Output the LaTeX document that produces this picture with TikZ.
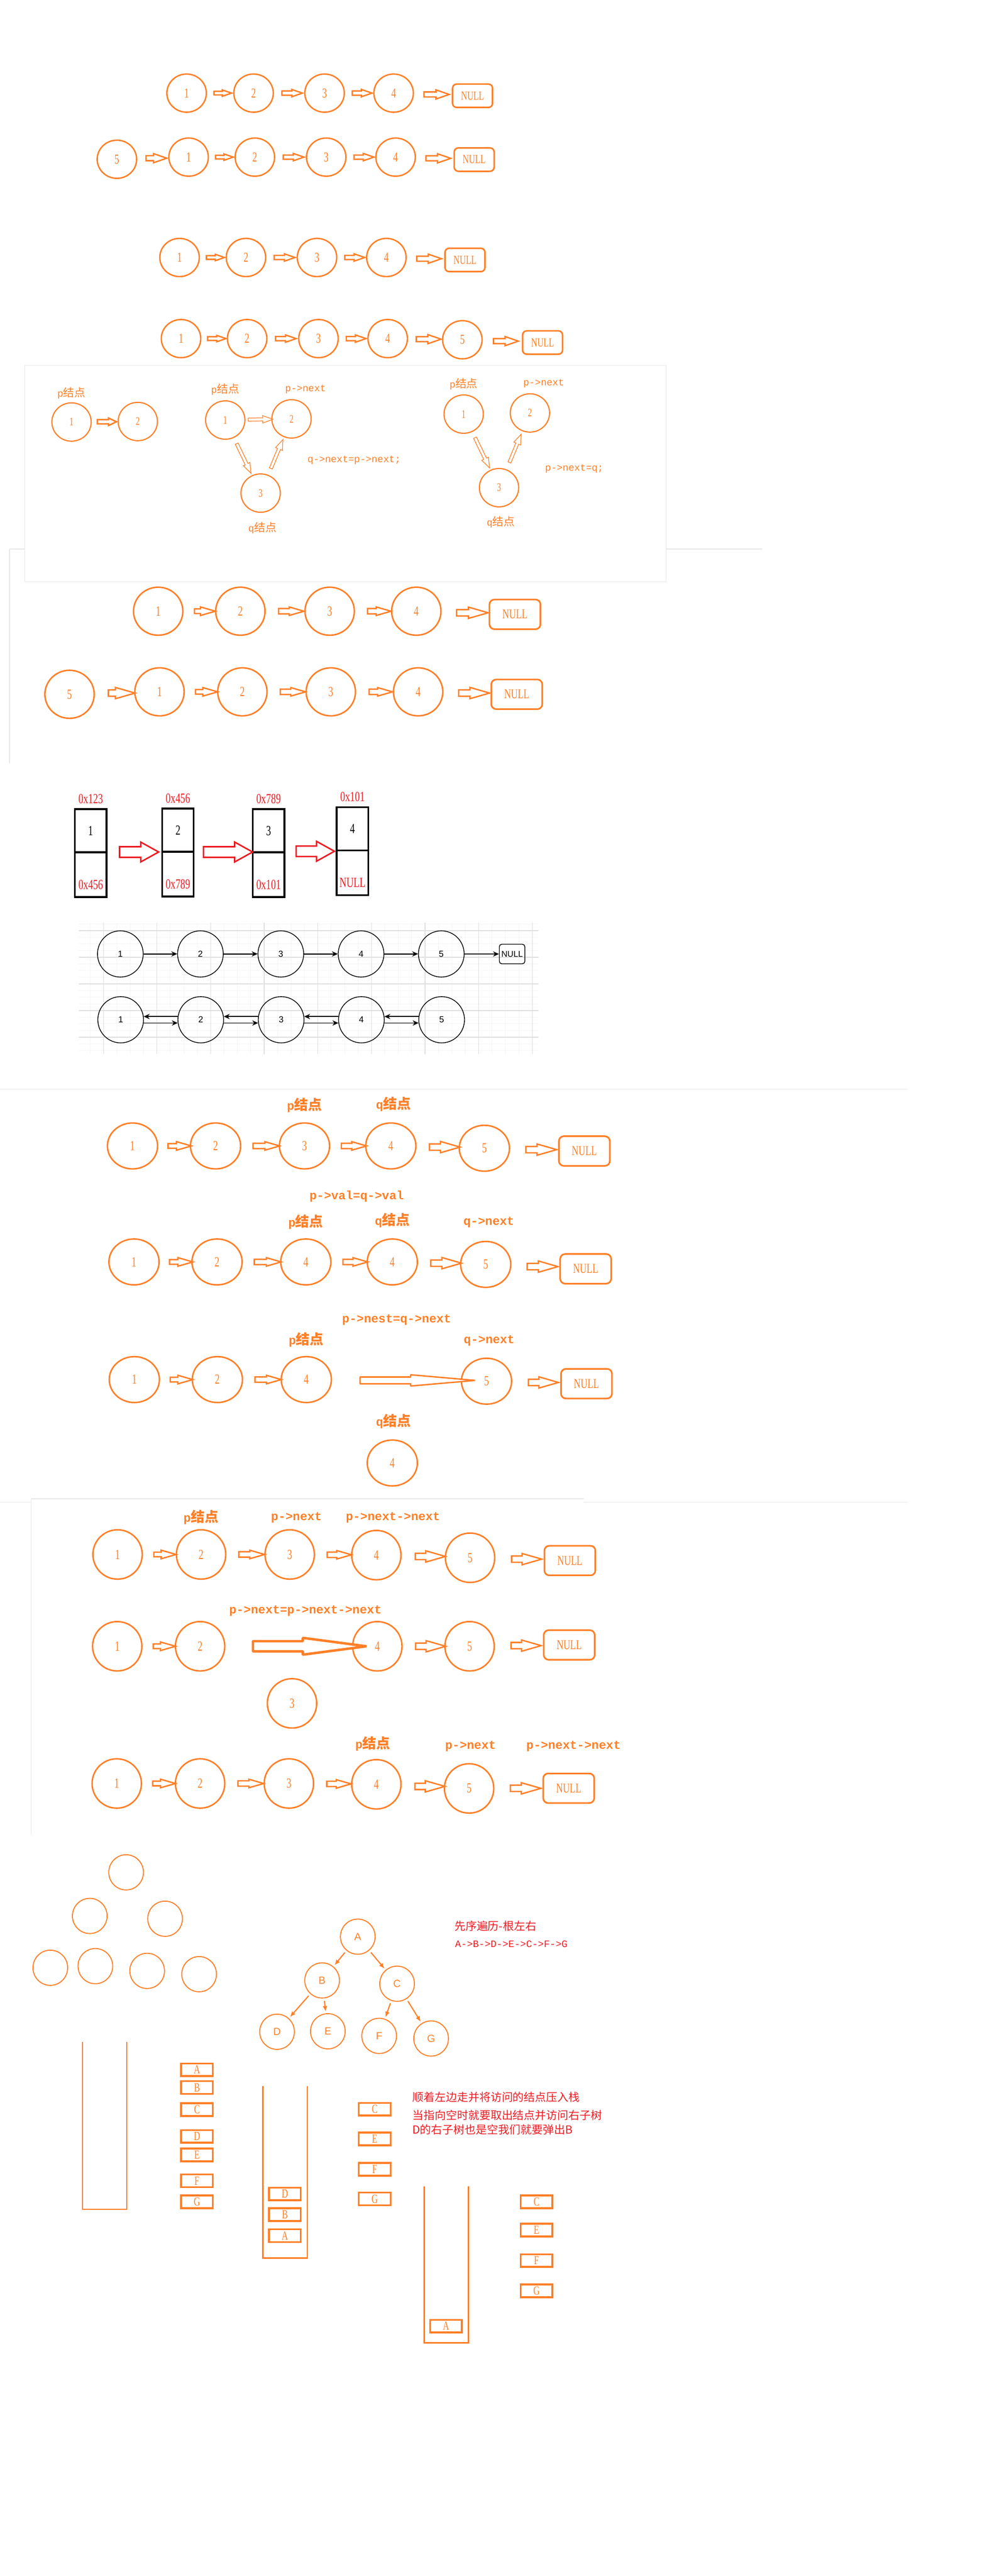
\documentclass[tikz,border=0pt]{standalone}
\usepackage{fontspec}
\setmainfont{Liberation Serif}
\setsansfont{Liberation Sans}
\setmonofont{Liberation Mono}
\newfontfamily\cjk{Noto Sans CJK SC}[Scale=1.15]
\newfontfamily\cnd{Liberation Serif}[FakeStretch=0.7]
\usepackage{tikz}
\usetikzlibrary{arrows.meta, shapes.geometric, shapes.arrows, positioning, calc}
\definecolor{paintOrange}{RGB}{255,127,39}
\definecolor{paintRed}{RGB}{237,28,36}
\definecolor{sheetGray}{RGB}{232,232,232}
\definecolor{gridMinor}{RGB}{245,245,245}
\definecolor{gridMajor}{RGB}{224,224,224}
\tikzstyle{lNode} = [ellipse, draw=paintOrange, line width=0.85, inner sep=0, minimum width=24, minimum height=23.2, text=paintOrange, font=\cnd\fontsize{8.3}{8.3}\selectfont]
\tikzstyle{lNull} = [rectangle, rounded corners=2.5, draw=paintOrange, line width=0.95, inner sep=0, minimum width=24.3, minimum height=14.2, text=paintOrange, font=\cnd\fontsize{7.5}{7.5}\selectfont]
\tikzstyle{lArrow} = [single arrow, draw=paintOrange, fill=white, line width=0.85, inner sep=0, inner ysep=0.85, single arrow head extend=0.95, single arrow tip angle=38]
\tikzstyle{lSmall} = [inner ysep=0.7, single arrow head extend=0.8]
\tikzstyle{lLarge} = [inner ysep=1.1, single arrow head extend=1.25]
\tikzstyle{pNode} = [lNode, line width=0.7, minimum width=23.9, minimum height=23.3, font=\cnd\fontsize{7}{7}\selectfont]
\tikzstyle{pArrow} = [lArrow, line width=0.4, inner ysep=0.75, single arrow head extend=1.3, single arrow tip angle=40, sloped, allow upside down]
\tikzstyle{pLabel} = [text=paintOrange, inner sep=0, font=\ttfamily\fontsize{5.9}{6.5}\selectfont]
\tikzstyle{bNode} = [lNode, line width=0.9, minimum width=30, minimum height=29.2, font=\cnd\fontsize{8.5}{8.5}\selectfont]
\tikzstyle{bNull} = [lNull, line width=1, rounded corners=3, minimum width=31, minimum height=18, font=\cnd\fontsize{8.2}{8.2}\selectfont]
\tikzstyle{bArrow} = [lArrow, line width=0.85, inner ysep=1.2, single arrow head extend=0.95, single arrow tip angle=32, xshift=1]
\tikzstyle{bSmall} = [inner ysep=0.98, single arrow head extend=1.2]
\tikzstyle{bLarge} = [inner ysep=1.5, single arrow head extend=1.5]
\tikzstyle{eNode} = [bNode, minimum width=30.5, minimum height=27.9]
\tikzstyle{fNode} = [bNode, minimum width=30, minimum height=30]
\tikzstyle{eLabel} = [text=paintOrange, inner sep=0, font=\ttfamily\bfseries\fontsize{7.35}{8}\selectfont]
\tikzstyle{memCell} = [rectangle, draw=black, line width=1.1, inner sep=0, outer sep=0, minimum width=19.2, font=\cnd\fontsize{8.5}{8.5}\selectfont]
\tikzstyle{memAddr} = [text=paintRed, inner sep=0, font=\cnd\fontsize{8.5}{8.5}\selectfont]
\tikzstyle{memArrow} = [single arrow, draw=paintRed, fill=white, line width=0.9, inner sep=0, inner ysep=2.75, single arrow head extend=2.85, single arrow tip angle=58]
\tikzstyle{gNode} = [ellipse, draw=black, line width=0.45, inner sep=0, minimum width=27.8, minimum height=28.1, font=\sffamily\fontsize{5.3}{5.3}\selectfont]
\tikzstyle{gNull} = [rectangle, rounded corners=1.5, draw=black, line width=0.45, inner sep=0, minimum width=15.5, minimum height=11.9, font=\sffamily\fontsize{5.1}{5.1}\selectfont]
\tikzstyle{gArrow} = [draw=black, line width=0.5, -{Stealth[length=3.6pt, width=3.2pt]}]
\tikzstyle{tNode} = [ellipse, draw=paintOrange, line width=0.6, inner sep=0, minimum width=21.1, minimum height=21.4, text=paintOrange, font=\sffamily\fontsize{6.3}{6.3}\selectfont]
\tikzstyle{tArrow} = [draw=paintOrange, line width=0.7, -{Latex[length=3.4pt, width=2.8pt]}, shorten <=1.5pt, shorten >=1pt]
\tikzstyle{sBox} = [rectangle, draw=paintOrange, line width=1.15, inner sep=0, minimum width=19.3, minimum height=7.7, text=paintOrange, font=\cnd\fontsize{7.6}{7.6}\selectfont]
\tikzstyle{stackWall} = [draw=paintOrange, line width=0.9]
\tikzstyle{redNote} = [text=paintRed, inner sep=0, anchor=west, font=\cjk\fontsize{5.9}{7}\selectfont]
\tikzstyle{redCode} = [text=paintRed, inner sep=0, font=\ttfamily\fontsize{6}{7}\selectfont]
\tikzstyle{sheetLine} = [draw=sheetGray, line width=0.4]
\begin{document}
\begin{tikzpicture}[x=1pt, y=-1pt]
    \useasboundingbox (0,0) rectangle (600,1565.7);

    % four plain lists
    \node (r11) [lNode] at (113.5,56.6) {1};
    \node (r12) [lNode] at (154.2,56.6) {2};
    \node (r13) [lNode] at (197.4,56.6) {3};
    \node (r14) [lNode] at (239.4,56.6) {4};
    \node (r1n) [lNull] at (287.4,58.2) {NULL};
    \path (r11) -- node[lArrow, lSmall, minimum height=10.7] (a11) {} (r12);
    \path (r12) -- node[lArrow, minimum height=12.5] (a12) {} (r13);
    \path (r13) -- node[lArrow, minimum height=12] (a13) {} (r14);
    \path (r14) -- node[lArrow, lLarge, minimum height=15.4] (a14) {} (r1n);

    \node (r25) [lNode] at (71.1,96.8) {5};
    \node (r21) [lNode] at (114.7,95.5) {1};
    \node (r22) [lNode] at (155,95.5) {2};
    \node (r23) [lNode] at (198.4,95.5) {3};
    \node (r24) [lNode] at (240.6,95.5) {4};
    \node (r2n) [lNull] at (288.4,97) {NULL};
    \path (r25) -- node[lArrow, lLarge, minimum height=12.6] (a25) {} (r21);
    \path (r21) -- node[lArrow, lSmall, minimum height=10.7] (a21) {} (r22);
    \path (r22) -- node[lArrow, minimum height=12.6] (a22) {} (r23);
    \path (r23) -- node[lArrow, minimum height=12.1] (a23) {} (r24);
    \path (r24) -- node[lArrow, lLarge, minimum height=15.1] (a24) {} (r2n);

    \node (r31) [lNode] at (109.2,156.5) {1};
    \node (r32) [lNode] at (149.6,156.5) {2};
    \node (r33) [lNode] at (192.8,156.5) {3};
    \node (r34) [lNode] at (235,156.5) {4};
    \node (r3n) [lNull] at (282.8,158) {NULL};
    \path (r31) -- node[lArrow, lSmall, minimum height=11] (a31) {} (r32);
    \path (r32) -- node[lArrow, minimum height=12.7] (a32) {} (r33);
    \path (r33) -- node[lArrow, minimum height=12.1] (a33) {} (r34);
    \path (r34) -- node[lArrow, lLarge, minimum height=15] (a34) {} (r3n);

    \node (r41) [lNode] at (110.1,205.8) {1};
    \node (r42) [lNode] at (150.3,205.8) {2};
    \node (r43) [lNode] at (193.7,205.8) {3};
    \node (r44) [lNode] at (235.8,205.8) {4};
    \node (r45) [lNode] at (281.2,206.5) {5};
    \node (r4n) [lNull] at (330,208.2) {NULL};
    \path (r41) -- node[lArrow, lSmall, minimum height=11.2] (a41) {} (r42);
    \path (r42) -- node[lArrow, minimum height=12.5] (a42) {} (r43);
    \path (r43) -- node[lArrow, minimum height=12] (a43) {} (r44);
    \path (r44) -- node[lArrow, lLarge, minimum height=15.1] (a44) {} (r45);
    \path (r45) -- node[lArrow, lLarge, minimum height=15.1] (a45) {} (r4n);

    % insertion panel
    \draw[sheetLine] (5.8,333.7) -- (463.6,333.7);
    \draw[sheetLine] (5.8,333.7) -- (5.8,464);
    \draw[sheetLine, fill=white] (15,222) rectangle (405,353.7);

    \node (pa1) [pNode] at (43.5,256.5) {1};
    \node (pa2) [pNode] at (83.8,256.2) {2};
    \path (pa1) -- node[lArrow, line width=0.9, single arrow tip angle=50, minimum height=11.6] (pa12) {} (pa2);
    \node (paP) [pLabel] at (43.5,239) {p{\cjk 结点}};

    \node (pb1) [pNode] at (137,255.3) {1};
    \node (pb2) [pNode] at (177.3,254.6) {2};
    \node (pb3) [pNode] at (158.5,299.7) {3};
    \path (pb1) -- node[pArrow, minimum height=15] (pb12) {} (pb2);
    \path (pb1) -- node[pArrow, minimum height=20] (pb13) {} (pb3);
    \path (pb3) -- node[pArrow, minimum height=19] (pb32) {} (pb2);
    \node (pbP) [pLabel] at (137,236.8) {p{\cjk 结点}};
    \node (pbN) [pLabel] at (185.8,236.5) {p->next};
    \node (pbC) [pLabel] at (215.4,279.8) {q->next=p->next;};
    \node (pbQ) [pLabel] at (159.6,321) {q{\cjk 结点}};

    \node (pc1) [pNode] at (282,251.7) {1};
    \node (pc2) [pNode] at (322.3,251) {2};
    \node (pc3) [pNode] at (303.5,296.4) {3};
    \path (pc1) -- node[pArrow, minimum height=20.4] (pc13) {} (pc3);
    \path (pc3) -- node[pArrow, minimum height=18.6] (pc32) {} (pc2);
    \node (pcP) [pLabel] at (282,233.3) {p{\cjk 结点}};
    \node (pcN) [pLabel] at (330.7,232.9) {p->next};
    \node (pcC) [pLabel] at (349.3,285) {p->next=q;};
    \node (pcQ) [pLabel] at (304.6,317.4) {q{\cjk 结点}};

    % head insertion, big
    \node (s11) [bNode] at (96.2,371.5) {1};
    \node (s12) [bNode] at (146.2,371.5) {2};
    \node (s13) [bNode] at (200.5,371.5) {3};
    \node (s14) [bNode] at (253.2,371.5) {4};
    \node (s1n) [bNull] at (313.2,373.4) {NULL};
    \path (s11) -- node[bArrow, bSmall, minimum height=12.7] (b11) {} (s12);
    \path (s12) -- node[bArrow, minimum height=15.4] (b12) {} (s13);
    \path (s13) -- node[bArrow, minimum height=14.3] (b13) {} (s14);
    \path (s14) -- node[bArrow, bLarge, minimum height=19.2] (b14) {} (s1n);

    \node (s25) [bNode] at (42.3,422) {5};
    \node (s21) [bNode] at (97,420.5) {1};
    \node (s22) [bNode] at (147.4,420.5) {2};
    \node (s23) [bNode] at (201.2,420.5) {3};
    \node (s24) [bNode] at (254.3,420.5) {4};
    \node (s2n) [bNull] at (314.3,422) {NULL};
    \path (s25) -- node[bArrow, bLarge, minimum height=16.2] (b25) {} (s21);
    \path (s21) -- node[bArrow, bSmall, minimum height=13.5] (b21) {} (s22);
    \path (s22) -- node[bArrow, minimum height=15.4] (b22) {} (s23);
    \path (s23) -- node[bArrow, minimum height=14.2] (b23) {} (s24);
    \path (s24) -- node[bArrow, bLarge, minimum height=18.8] (b24) {} (s2n);

    % memory cells
    \node (m1v) [memCell, minimum height=26.2] at (55.15,504.9) {1};
    \node (m1p) [memCell, minimum height=27.2, below=0pt of m1v] {};
    \node (m1h) [memAddr, above=3.3pt of m1v] {0x123};
    \node (m1a) [memAddr, above=4.4pt of m1p.south] {0x456};
    \node (m2v) [memCell, minimum height=26.2] at (108.25,504.6) {2};
    \node (m2p) [memCell, minimum height=27.2, below=0pt of m2v] {};
    \node (m2h) [memAddr, above=3.3pt of m2v] {0x456};
    \node (m2a) [memAddr, above=4.4pt of m2p.south] {0x789};
    \node (m3v) [memCell, minimum height=26.2] at (163.35,504.9) {3};
    \node (m3p) [memCell, minimum height=27.2, below=0pt of m3v] {};
    \node (m3h) [memAddr, above=3.3pt of m3v] {0x789};
    \node (m3a) [memAddr, above=4.4pt of m3p.south] {0x101};
    \node (m4v) [memCell, minimum height=26.2] at (214.4,503.7) {4};
    \node (m4p) [memCell, minimum height=27.2, below=0pt of m4v] {};
    \node (m4h) [memAddr, above=3.3pt of m4v] {0x101};
    \node (m4a) [memAddr, above=4.4pt of m4p.south] {NULL};
    \path (m1v.south east) -- node[memArrow, minimum height=23.8] (ma1) {} (m2v.south west);
    \path (m2v.south east) -- node[memArrow, minimum height=29.9] (ma2) {} (m3v.south west);
    \path (m3v.south east) -- node[memArrow, minimum height=23.3] (ma3) {} (m4v.south west);

    % grid sketch
    \draw[gridMinor, line width=0.3, shift={(62.9,565.6)}, xstep=8.15pt, ystep=4.05pt] (-15.1,75.1) grid (264.6,-4.8);
    \draw[gridMajor, line width=0.4, shift={(62.9,565.6)}, xstep=32.6pt, ystep=16.2pt] (-15.1,75.1) grid (264.6,-4.8);
    \node (g11) [gNode] at (73.2,579.8) {1};
    \node (g12) [gNode] at (121.9,579.8) {2};
    \node (g13) [gNode] at (170.8,579.8) {3};
    \node (g14) [gNode] at (219.6,579.8) {4};
    \node (g15) [gNode] at (268.4,579.8) {5};
    \node (gN) [gNull] at (311.45,579.85) {NULL};
    \draw[gArrow] (g11) -- (g12);
    \draw[gArrow] (g12) -- (g13);
    \draw[gArrow] (g13) -- (g14);
    \draw[gArrow] (g14) -- (g15);
    \draw[gArrow] (g15) -- (gN);
    \node (g21) [gNode] at (73.4,619.8) {1};
    \node (g22) [gNode] at (122.1,619.8) {2};
    \node (g23) [gNode] at (171,619.8) {3};
    \node (g24) [gNode] at (219.8,619.8) {4};
    \node (g25) [gNode] at (268.6,619.8) {5};
    \draw[gArrow] (g22.172) -- (g21.8);
    \draw[gArrow] (g21.352) -- (g22.188);
    \draw[gArrow] (g23.172) -- (g22.8);
    \draw[gArrow] (g22.352) -- (g23.188);
    \draw[gArrow] (g24.172) -- (g23.8);
    \draw[gArrow] (g23.352) -- (g24.188);
    \draw[gArrow] (g25.172) -- (g24.8);
    \draw[gArrow] (g24.352) -- (g25.188);

    % deleting a node by copying
    \draw[sheetLine] (0,662) -- (552,662);
    \node (e11) [eNode] at (80.6,696.5) {1};
    \node (e12) [eNode] at (131.1,696.5) {2};
    \node (e13) [eNode] at (185.2,696.5) {3};
    \node (e14) [eNode] at (237.7,696.5) {4};
    \node (e15) [eNode] at (294.6,697.9) {5};
    \node (e1n) [bNull] at (355.4,699.6) {NULL};
    \path (e11) -- node[bArrow, bSmall, minimum height=14.2] (c11) {} (e12);
    \path (e12) -- node[bArrow, minimum height=16.2] (c12) {} (e13);
    \path (e13) -- node[bArrow, minimum height=15.3] (c13) {} (e14);
    \path (e14) -- node[bArrow, bLarge, minimum height=18.6] (c14) {} (e15);
    \path (e15) -- node[bArrow, bLarge, minimum height=18.7] (c15) {} (e1n);
    \node (e1P) [eLabel] at (185.2,671.9) {p{\cjk 结点}};
    \node (e1Q) [eLabel] at (239.3,671) {q{\cjk 结点}};
    \node (eVal) [eLabel] at (216.9,727.2) {p->val=q->val};

    \node (e21) [eNode] at (81.5,767) {1};
    \node (e22) [eNode] at (132,767) {2};
    \node (e23) [eNode] at (186,767) {4};
    \node (e24) [eNode] at (238.6,767) {4};
    \node (e25) [eNode] at (295.4,768.5) {5};
    \node (e2n) [bNull] at (356.2,771.2) {NULL};
    \path (e21) -- node[bArrow, bSmall, minimum height=14.2] (c21) {} (e22);
    \path (e22) -- node[bArrow, minimum height=16.3] (c22) {} (e23);
    \path (e23) -- node[bArrow, minimum height=15.1] (c23) {} (e24);
    \path (e24) -- node[bArrow, bLarge, minimum height=18.7] (c24) {} (e25);
    \path (e25) -- node[bArrow, bLarge, minimum height=18.7] (c25) {} (e2n);
    \node (e2P) [eLabel] at (186,742.7) {p{\cjk 结点}};
    \node (e2Q) [eLabel] at (238.7,741.8) {q{\cjk 结点}};
    \node (e2N) [eLabel] at (297.3,742.9) {q->next};
    \node (eNest) [eLabel] at (241.2,802.2) {p->nest=q->next};

    \node (e31) [eNode] at (81.7,838.5) {1};
    \node (e32) [eNode] at (132.2,838.5) {2};
    \node (e33) [eNode] at (186.3,838.5) {4};
    \node (e35) [eNode] at (295.9,839.5) {5};
    \node (e3n) [bNull] at (356.7,841) {NULL};
    \path (e31) -- node[bArrow, bSmall, minimum height=13.7] (c31) {} (e32);
    \path (e32) -- node[bArrow, minimum height=16] (c32) {} (e33);
    \path (e33) -- node[bArrow, line join=bevel, inner ysep=1.65, single arrow head extend=1.35, single arrow tip angle=10, minimum height=69.9] (c33) {} (e35);
    \path (e35) -- node[bArrow, bLarge, minimum height=18.3] (c35) {} (e3n);
    \node (e3P) [eLabel] at (186.3,814.3) {p{\cjk 结点}};
    \node (e3N) [eLabel] at (297.5,815) {q->next};
    \node (e34) [eNode] at (238.6,889.2) {4};
    \node (e3Q) [eLabel] at (239.3,864) {q{\cjk 结点}};

    % deleting the next node
    \draw[sheetLine] (0,913) -- (18.9,913);
    \draw[sheetLine] (18.9,911) -- (355,911);
    \draw[sheetLine] (355,913) -- (552,913);
    \draw[sheetLine] (18.9,911) -- (18.9,1115);

    \node (f11) [fNode] at (71.5,944.8) {1};
    \node (f12) [fNode] at (122.3,944.8) {2};
    \node (f13) [fNode] at (176.2,944.8) {3};
    \node (f14) [fNode] at (228.9,945.2) {4};
    \node (f15) [fNode] at (285.9,946.8) {5};
    \node (f1n) [bNull] at (346.6,948.5) {NULL};
    \path (f11) -- node[bArrow, bSmall, minimum height=13.5] (d11) {} (f12);
    \path (f12) -- node[bArrow, minimum height=15.7] (d12) {} (f13);
    \path (f13) -- node[bArrow, minimum height=14.8] (d13) {} (f14);
    \path (f14) -- node[bArrow, bLarge, minimum height=18.3] (d14) {} (f15);
    \path (f15) -- node[bArrow, bLarge, minimum height=18.3] (d15) {} (f1n);
    \node (f1P) [eLabel] at (122.3,922.3) {p{\cjk 结点}};
    \node (f1N) [eLabel] at (180.3,922.3) {p->next};
    \node (f1NN) [eLabel] at (239,922.3) {p->next->next};

    \node (f21) [fNode] at (71.3,1000.6) {1};
    \node (f22) [fNode] at (121.7,1000.6) {2};
    \node (f24) [fNode] at (229.5,1000.6) {4};
    \node (f25) [fNode] at (285.6,1000.6) {5};
    \node (f2n) [bNull] at (346.2,999.8) {NULL};
    \path (f21) -- node[bArrow, bSmall, minimum height=13.5] (d21) {} (f22);
    \path (f22) -- node[bArrow, line width=1.5, line join=bevel, inner ysep=2.35, single arrow head extend=2, single arrow tip angle=15, minimum height=69.1] (d22) {} (f24);
    \path (f24) -- node[bArrow, bLarge, minimum height=18.3] (d24) {} (f25);
    \path (f25) -- node[bArrow, bLarge, minimum height=18.3] (d25) {} (f2n);
    \node (f2C) [eLabel] at (185.7,979.1) {p->next=p->next->next};
    \node (f23) [fNode] at (177.6,1035.3) {3};

    \node (f31) [fNode] at (71,1084) {1};
    \node (f32) [fNode] at (121.7,1084) {2};
    \node (f33) [fNode] at (175.7,1084) {3};
    \node (f34) [fNode] at (228.9,1084.5) {4};
    \node (f35) [fNode] at (285.3,1087) {5};
    \node (f3n) [bNull] at (345.9,1086.9) {NULL};
    \path (f31) -- node[bArrow, bSmall, minimum height=13.8] (d31) {} (f32);
    \path (f32) -- node[bArrow, minimum height=15.7] (d32) {} (f33);
    \path (f33) -- node[bArrow, minimum height=14.8] (d33) {} (f34);
    \path (f34) -- node[bArrow, bLarge, minimum height=18.3] (d34) {} (f35);
    \path (f35) -- node[bArrow, bLarge, minimum height=18.6] (d35) {} (f3n);
    \node (f3P) [eLabel] at (226.8,1059.8) {p{\cjk 结点}};
    \node (f3N) [eLabel] at (286.2,1061.4) {p->next};
    \node (f3NN) [eLabel] at (348.8,1061.5) {p->next->next};

    % binary tree and stack
    \node (t1) [tNode] at (76.7,1138) {};
    \node (t2) [tNode] at (54.6,1164.5) {};
    \node (t3) [tNode] at (100.4,1166.2) {};
    \node (t4) [tNode] at (30.6,1196) {};
    \node (t5) [tNode] at (58,1195) {};
    \node (t6) [tNode] at (89.5,1197.9) {};
    \node (t7) [tNode] at (121.1,1199.9) {};

    \node (tA) [tNode] at (217.6,1177.1) {A};
    \node (tB) [tNode] at (195.9,1203.7) {B};
    \node (tC) [tNode] at (241.5,1205.7) {C};
    \node (tD) [tNode] at (168.5,1234.9) {D};
    \node (tE) [tNode] at (199.4,1234.6) {E};
    \node (tF) [tNode] at (230.6,1237.4) {F};
    \node (tG) [tNode] at (262.2,1239) {G};
    \draw[tArrow] (tA) -- (tB);
    \draw[tArrow] (tA) -- (tC);
    \draw[tArrow] (tB) -- (tD);
    \draw[tArrow] (tB) -- (tE);
    \draw[tArrow] (tC) -- (tF);
    \draw[tArrow] (tC) -- (tG);
    \node (tOrder) [redNote, anchor=center] at (301.3,1170.5) {先序遍历-根左右};
    \node (tSeq) [redCode] at (311,1181.7) {A->B->D->E->C->F->G};

    \draw[stackWall] (50.2,1241) -- (50.2,1342.8) -- (77.1,1342.8) -- (77.1,1241);
    \node (k1A) [sBox] at (119.8,1258) {A};
    \node (k1B) [sBox] at (119.8,1268.8) {B};
    \node (k1C) [sBox] at (119.8,1282.2) {C};
    \node (k1D) [sBox] at (119.8,1298.5) {D};
    \node (k1E) [sBox] at (119.8,1309.8) {E};
    \node (k1F) [sBox] at (119.8,1325.5) {F};
    \node (k1G) [sBox] at (119.8,1338.3) {G};

    \draw[stackWall] (159.8,1268) -- (159.8,1372.5) -- (186.9,1372.5) -- (186.9,1268);
    \node (k2D) [sBox] at (173.25,1333.5) {D};
    \node (k2B) [sBox] at (173.25,1346) {B};
    \node (k2A) [sBox] at (173.25,1358.8) {A};
    \node (k2C) [sBox] at (227.9,1282) {C};
    \node (k2E) [sBox] at (227.9,1300) {E};
    \node (k2F) [sBox] at (227.9,1318.5) {F};
    \node (k2G) [sBox] at (227.9,1336.5) {G};

    \draw[stackWall] (258,1329) -- (258,1424) -- (285,1424) -- (285,1329);
    \node (k3A) [sBox] at (271.25,1413.8) {A};
    \node (k3C) [sBox] at (326.3,1338.3) {C};
    \node (k3E) [sBox] at (326.3,1355.4) {E};
    \node (k3F) [sBox] at (326.3,1374) {F};
    \node (k3G) [sBox] at (326.3,1392.4) {G};

    \node (kNote1) [redNote] at (250.7,1274.5) {顺着左边走并将访问的结点压入栈};
    \node (kNote2) [redNote] at (250.7,1285.5) {当指向空时就要取出结点并访问右子树};
    \node (kNote3) [redNote] at (250.7,1294.5) {D的右子树也是空我们就要弹出B};
\end{tikzpicture}
\end{document}
